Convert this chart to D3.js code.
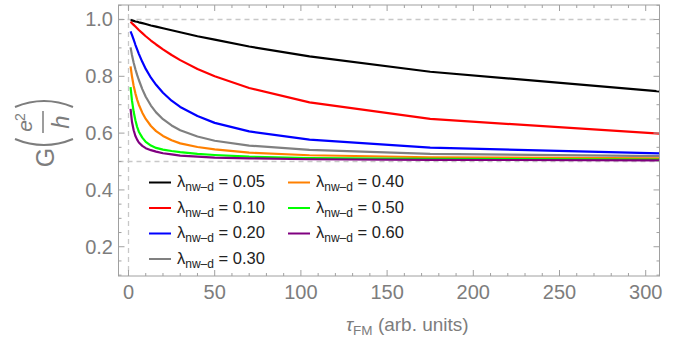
<!DOCTYPE html>
<html>
<head>
<meta charset="utf-8">
<script src="https://cdn.jsdelivr.net/npm/d3@7"></script>
<style>
  body { margin: 0; background: #fff; }
  text { font-family: "Liberation Sans", Arial, sans-serif; }
</style>
</head>
<body>
<div id="chart"></div>
<script>
// sample points along tau_FM
const tau = [1.2, 2, 3, 4, 5, 6, 8, 10, 13, 16, 20, 25, 30, 40, 50, 70, 105, 175, 308];

const g005 = [0.998, 0.997, 0.995, 0.993, 0.992, 0.990, 0.987, 0.984, 0.979, 0.975, 0.969, 0.962, 0.955, 0.941, 0.929, 0.905, 0.870, 0.816, 0.747];
const g010 = [0.992, 0.987, 0.981, 0.975, 0.969, 0.963, 0.952, 0.941, 0.926, 0.912, 0.895, 0.875, 0.857, 0.826, 0.800, 0.759, 0.708, 0.650, 0.598];
const g020 = [0.958, 0.946, 0.929, 0.911, 0.895, 0.879, 0.851, 0.826, 0.795, 0.770, 0.742, 0.714, 0.692, 0.660, 0.636, 0.606, 0.577, 0.549, 0.529];
const g030 = [0.902, 0.875, 0.848, 0.825, 0.805, 0.787, 0.755, 0.728, 0.697, 0.673, 0.649, 0.627, 0.610, 0.588, 0.573, 0.556, 0.541, 0.527, 0.519];
const g040 = [0.835, 0.800, 0.766, 0.740, 0.718, 0.700, 0.672, 0.650, 0.625, 0.607, 0.590, 0.575, 0.564, 0.551, 0.543, 0.531, 0.522, 0.515, 0.511];
const g050 = [0.762, 0.715, 0.675, 0.645, 0.622, 0.605, 0.584, 0.569, 0.556, 0.548, 0.542, 0.537, 0.533, 0.527, 0.523, 0.517, 0.512, 0.509, 0.507];
const g060 = [0.685, 0.640, 0.610, 0.590, 0.577, 0.567, 0.555, 0.547, 0.540, 0.535, 0.529, 0.525, 0.521, 0.517, 0.514, 0.511, 0.508, 0.506, 0.504];

const lambdas = ["0.05", "0.10", "0.20", "0.30", "0.40", "0.50", "0.60"];
const series = [g005, g010, g020, g030, g040, g050, g060];
const colors = ["#000000", "#ff0000", "#0000ff", "#808080", "#ff8000", "#00ff00", "#800080"];

const xTicks = [0, 50, 100, 150, 200, 250, 300];
const yTicks = [0.2, 0.4, 0.6, 0.8, 1.0];
const refLines = [0.5, 1.0];

const W = 689, H = 343;
const pL = 118.5, pR = 659.5, pT = 5, pB = 276;
const axisGray = "#7d7d7d";
const frameGray = "#a0a0a0";

const x = d3.scaleLinear().domain([-5.8, 308]).range([pL, pR]);
const y = d3.scaleLinear().domain([0.097, 1.051]).range([pB, pT]);

const svg = d3.select("#chart").append("svg")
  .attr("width", W)
  .attr("height", H);

// dashed reference lines
svg.selectAll(".hline")
  .data(refLines)
  .enter().append("line")
  .attr("x1", pL).attr("x2", pR)
  .attr("y1", d => y(d)).attr("y2", d => y(d))
  .attr("stroke", "#c8c8c8")
  .attr("stroke-width", 1.3)
  .attr("stroke-dasharray", "5,4");

svg.append("line")
  .attr("x1", x(0)).attr("x2", x(0))
  .attr("y1", pT).attr("y2", pB)
  .attr("stroke", "#c8c8c8")
  .attr("stroke-width", 1.3)
  .attr("stroke-dasharray", "5,4");

// curves
const line = d3.line()
  .x((d, i) => x(tau[i]))
  .y(d => y(d));

svg.selectAll(".curve")
  .data(series)
  .enter().append("path")
  .attr("fill", "none")
  .attr("stroke", (d, i) => colors[i])
  .attr("stroke-width", 2.2)
  .attr("stroke-linejoin", "round")
  .attr("d", line);

// frame with inward ticks on all sides
svg.append("rect")
  .attr("x", pL).attr("y", pT)
  .attr("width", pR - pL).attr("height", pB - pT)
  .attr("fill", "none")
  .attr("stroke", frameGray)
  .attr("stroke-width", 1);

const xMinor = d3.range(0, 301, 10);
const yMinor = d3.range(0.1, 1.051, 0.05);

function isMajorX(v) { return v % 50 === 0; }
function isMajorY(v) { return Math.abs(v * 5 - Math.round(v * 5)) < 1e-6; }

const ticks = svg.append("g").attr("stroke", frameGray).attr("stroke-width", 1);
xMinor.forEach(v => {
  const len = isMajorX(v) ? 6 : 3;
  ticks.append("line").attr("x1", x(v)).attr("x2", x(v)).attr("y1", pB).attr("y2", pB - len);
  ticks.append("line").attr("x1", x(v)).attr("x2", x(v)).attr("y1", pT).attr("y2", pT + len);
});
yMinor.forEach(v => {
  const len = isMajorY(v) ? 6 : 3;
  ticks.append("line").attr("y1", y(v)).attr("y2", y(v)).attr("x1", pL).attr("x2", pL + len);
  ticks.append("line").attr("y1", y(v)).attr("y2", y(v)).attr("x1", pR).attr("x2", pR - len);
});

// tick labels
svg.selectAll(".xlab")
  .data(xTicks)
  .enter().append("text")
  .attr("x", d => x(d))
  .attr("y", 299)
  .attr("text-anchor", "middle")
  .attr("font-size", 20)
  .attr("fill", axisGray)
  .text(d => d);

svg.selectAll(".ylab")
  .data(yTicks)
  .enter().append("text")
  .attr("x", 113)
  .attr("y", d => y(d) + 7)
  .attr("text-anchor", "end")
  .attr("font-size", 20)
  .attr("fill", axisGray)
  .text(d => d.toFixed(1));

// x axis title
const xt = svg.append("text")
  .attr("x", 346)
  .attr("y", 331)
  .attr("font-size", 19)
  .attr("fill", axisGray);
xt.append("tspan").attr("font-style", "italic").text("τ");
xt.append("tspan").attr("font-size", 13.5).attr("dy", 4).text("FM");
xt.append("tspan").attr("dy", -4).text(" (arb. units)");

// y axis title: G (e^2 / h)
const yt = svg.append("g")
  .attr("transform", "translate(44,137) rotate(-90)")
  .attr("fill", axisGray);
yt.append("text").attr("x", -20.5).attr("y", 10).attr("text-anchor", "middle")
  .attr("font-size", 25).text("G");
yt.append("text").attr("x", 11).attr("y", -12).attr("text-anchor", "middle")
  .attr("font-size", 21).attr("font-style", "italic").text("e");
yt.append("text").attr("x", 20).attr("y", -19).attr("text-anchor", "middle")
  .attr("font-size", 14).text("2");
yt.append("text").attr("x", 15).attr("y", 25).attr("text-anchor", "middle")
  .attr("font-size", 24).attr("font-style", "italic").text("h");
yt.append("line").attr("x1", 4).attr("x2", 26).attr("y1", -1).attr("y2", -1)
  .attr("stroke", axisGray).attr("stroke-width", 1.5);
yt.append("path").attr("d", "M-2,-29 Q-14,0 -2,29")
  .attr("fill", "none").attr("stroke", axisGray).attr("stroke-width", 2);
yt.append("path").attr("d", "M30,-29 Q42,0 30,29")
  .attr("fill", "none").attr("stroke", axisGray).attr("stroke-width", 2);

// legend
const legendPos = lambdas.map((d, i) => i < 4
  ? { lx: 149, ty: 187 + i * 25.5 }
  : { lx: 288, ty: 187 + (i - 4) * 25.5 });

const leg = svg.selectAll(".leg")
  .data(lambdas)
  .enter().append("g")
  .attr("transform", (d, i) => `translate(${legendPos[i].lx},${legendPos[i].ty})`);

leg.append("line")
  .attr("x1", 0).attr("x2", 22)
  .attr("y1", -4.5).attr("y2", -4.5)
  .attr("stroke", (d, i) => colors[i])
  .attr("stroke-width", 2);

const lt = leg.append("text")
  .attr("x", 28)
  .attr("font-size", 16.5)
  .attr("fill", "#222");
lt.append("tspan").text("λ");
lt.append("tspan").attr("font-size", 12).attr("dy", 4).text("nw–d");
lt.append("tspan").attr("dy", -4).text(d => " = " + d);
</script>
</body>
</html>
